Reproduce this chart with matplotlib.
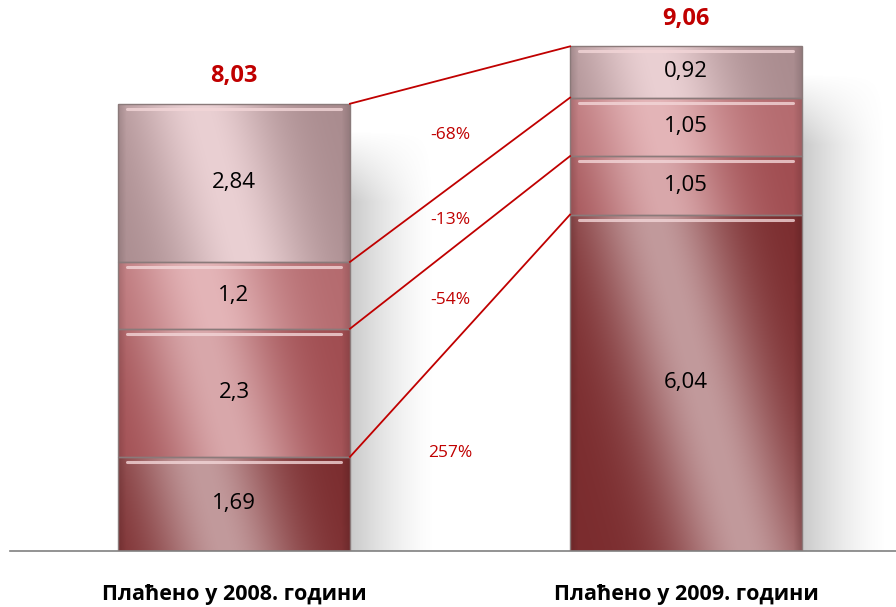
import numpy as np
import matplotlib
matplotlib.use("Agg")
import matplotlib.pyplot as plt
from matplotlib.colors import to_rgb

plt.rcParams['font.family'] = ['Open Sans', 'DejaVu Sans']

# data
categories = ['Плаћено у 2008. години', 'Плаћено у 2009. години']
paid_2008 = [1.69, 2.3, 1.2, 2.84]
paid_2009 = [6.04, 1.05, 1.05, 0.92]
totals = ['8,03', '9,06']
changes = ['257%', '-54%', '-13%', '-68%']

# dark / light tone per series, bottom to top
dark_cols = ['#7b2c2e', '#a04c50', '#b46a6e', '#a98b8e']
light_cols = ['#c29a9c', '#d9a8ab', '#e4b5b8', '#ead0d3']
RED = '#c00000'
BAR_W = 0.513
PX_X = 452.0   # pixels per x unit
PX_Y = 55.7    # pixels per y unit


def fmt(v):
    return ('%g' % v).replace('.', ',')


def gradient(h_px, w_px, dark, light):
    h_px = max(int(h_px), 2)
    w_px = int(w_px)
    yy, xx = np.mgrid[0:h_px, 0:w_px]
    u = xx / w_px
    v = yy / 500.0
    prof = np.exp(-((u - 0.35 - 0.6 * v) / 0.3) ** 2)
    d = np.array(to_rgb(dark))
    l = np.array(to_rgb(light))
    img = d + (l - d) * prof[..., None]
    # darker rim at left and right
    rim = np.clip(1 - np.minimum(xx, w_px - 1 - xx) / 8.0, 0, 1) * 0.12
    img = img * (1 - rim[..., None])
    return np.clip(img, 0, 1)


fig = plt.figure(figsize=(8.96, 6.07), dpi=100)
ax = fig.add_axes([10 / 896, 1 - 551 / 607, 886 / 896, 551 / 607])
ax.set_xlim(-0.4956, 1.4646)
ax.set_ylim(0, 551 / PX_Y)

stacks = [paid_2008, paid_2009]
tops = []
for i, vals in enumerate(stacks):
    cum = np.concatenate([[0], np.cumsum(vals)])
    tops.append(cum[1:])
    # soft shadow to the right of the bar
    sw = 85
    sh = int((cum[-1] - 0.5) * PX_Y)
    yy, xx = np.mgrid[0:sh, 0:sw]
    alpha = 0.42 * (1 - xx / sw) ** 1.5 * np.clip(yy / 70.0, 0, 1)
    shadow = np.zeros((sh, sw, 4))
    shadow[..., :3] = 0.5
    shadow[..., 3] = alpha
    ax.imshow(shadow, extent=[i + BAR_W / 2, i + BAR_W / 2 + sw / PX_X, 0, cum[-1] - 0.5],
              aspect='auto', origin='upper', zorder=1, interpolation='bilinear')
    bars = ax.bar([i] * len(vals), vals, bottom=cum[:-1], width=BAR_W,
                  color='none', edgecolor='#8a7a7a', linewidth=1.0, zorder=3)
    for j, (b, v) in enumerate(zip(bars, vals)):
        img = gradient(v * PX_Y, BAR_W * PX_X, dark_cols[j], light_cols[j])
        im = ax.imshow(img, extent=[i - BAR_W / 2, i + BAR_W / 2, cum[j], cum[j + 1]],
                       aspect='auto', origin='upper', zorder=2, interpolation='bilinear')
        im.set_clip_path(b)
        # bevel highlight at the top of each segment
        ax.plot([i - BAR_W / 2 + 0.02, i + BAR_W / 2 - 0.02],
                [cum[j + 1] - 0.09, cum[j + 1] - 0.09],
                color='#f3d6d8', lw=2.2, alpha=0.8, zorder=3, solid_capstyle='round')
        ax.text(i, cum[j] + v / 2, fmt(v), ha='center', va='center',
                fontsize=16, color='black', zorder=4)
    ax.text(i, cum[-1] + 0.28, totals[i], ha='center', va='bottom',
            fontsize=17, fontweight='bold', color=RED)

# connecting lines between segment tops
x0 = BAR_W / 2
x1 = 1 - BAR_W / 2
for a, b in zip(tops[0], tops[1]):
    ax.plot([x0, x1], [a, b], color=RED, lw=1.3, zorder=4)

# change labels between the lines
xl = 0.478
fr = (xl - x0) / (x1 - x0)
at_x = [0.0] + [a + (b - a) * fr for a, b in zip(tops[0], tops[1])]
for k, lab in enumerate(changes):
    ym = 0.52 * at_x[k] + 0.48 * at_x[k + 1]
    ax.text(xl, ym, lab, ha='center', va='center', fontsize=12.5, color=RED, zorder=4)

ax.set_xticks([0, 1])
ax.set_xticklabels(categories, fontsize=15.5, fontweight='bold')
ax.tick_params(axis='x', length=0, pad=24)
ax.set_yticks([])
for s in ['left', 'right', 'top']:
    ax.spines[s].set_visible(False)
ax.spines['bottom'].set_color('#808080')
ax.spines['bottom'].set_linewidth(1.2)

fig.savefig('out.png', dpi=100)
